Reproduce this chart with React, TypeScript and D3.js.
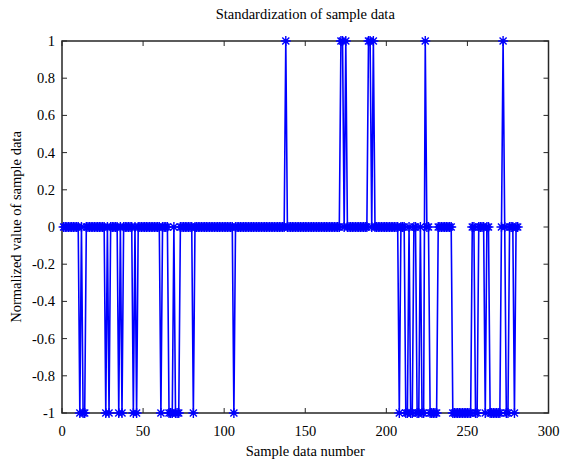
import React from "react";
import * as d3 from "d3";

const chartTitle = "Standardization of sample data";
const xLabel = "Sample data number";
const yLabel = "Normalized value of sample data";
const xTicks = [0, 50, 100, 150, 200, 250, 300];
const yTicks = [-1, -0.8, -0.6, -0.4, -0.2, 0, 0.2, 0.4, 0.6, 0.8, 1];

// normalized value of sample 1..281
const values = [
  0, 0, 0, 0, 0, 0, 0, 0, 0, 0, -1, 0, -1, -1, 0, 0, 0, 0, 0, 0,
  0, 0, 0, 0, 0, 0, -1, 0, -1, 0, 0, 0, 0, 0, -1, 0, -1, 0, 0, 0,
  0, 0, 0, -1, 0, -1, 0, 0, 0, 0, 0, 0, 0, 0, 0, 0, 0, 0, 0, 0,
  -1, 0, 0, 0, 0, -1, -1, -1, 0, -1, -1, -1, 0, 0, 0, 0, 0, 0, 0, 0,
  -1, 0, 0, 0, 0, 0, 0, 0, 0, 0, 0, 0, 0, 0, 0, 0, 0, 0, 0, 0,
  0, 0, 0, 0, 0, -1, 0, 0, 0, 0, 0, 0, 0, 0, 0, 0, 0, 0, 0, 0,
  0, 0, 0, 0, 0, 0, 0, 0, 0, 0, 0, 0, 0, 0, 0, 0, 0, 1, 0, 0,
  0, 0, 0, 0, 0, 0, 0, 0, 0, 0, 0, 0, 0, 0, 0, 0, 0, 0, 0, 0,
  0, 0, 0, 0, 0, 0, 0, 0, 0, 0, 0, 1, 1, 0, 1, 0, 0, 0, 0, 0,
  0, 0, 0, 0, 0, 0, 0, 0, 1, 1, 0, 1, 0, 0, 0, 0, 0, 0, 0, 0,
  0, 0, 0, 0, 0, 0, 0, -1, 0, 0, 0, -1, -1, 0, -1, -1, 0, 0, -1, -1,
  0, -1, -1, 1, 0, 0, -1, -1, -1, -1, -1, 0, 0, 0, 0, 0, 0, 0, 0, 0,
  -1, -1, -1, -1, -1, -1, -1, -1, -1, -1, -1, -1, 0, 0, -1, -1, 0, 0, 0, 0,
  -1, 0, 0, -1, -1, -1, -1, -1, -1, -1, 0, 1, 0, -1, -1, 0, 0, 0, -1, 0,
  0,
];

const W = 563;
const H = 460;
const left = 62;
const right = 548.5;
const top = 41;
const bottom = 413;
const axisColor = "#262626";
const font = "Liberation Serif, Times New Roman, DejaVu Serif, serif";
const lineColor = "#0000ff";
const fs = 14.5;

export default function App() {
  const x = d3.scaleLinear().domain([0, 300]).range([left, right]);
  const y = d3.scaleLinear().domain([-1, 1]).range([bottom, top]);
  const pts = values.map((v, i) => [i + 1, v] as [number, number]);
  const lineGen = d3
    .line<[number, number]>()
    .x((d) => x(d[0]))
    .y((d) => y(d[1]));
  const r = 5;
  const d2 = r * 0.7071;
  const star = `M0,${-r}L0,${r}M${-r},0L${r},0M${-d2},${-d2}L${d2},${d2}M${-d2},${d2}L${d2},${-d2}`;
  const tl = 5;

  return (
    <svg
      width={W}
      height={H}
      style={{ position: "absolute", left: 0, top: 0, background: "#fff", fontFamily: font }}
    >
      <rect x={0} y={0} width={W} height={H} fill="#fff" />
      <g stroke={axisColor} strokeWidth={1}>
        {xTicks.map((t) => (
          <g key={"xt" + t}>
            <line x1={x(t)} x2={x(t)} y1={bottom} y2={bottom - tl} />
            <line x1={x(t)} x2={x(t)} y1={top} y2={top + tl} />
          </g>
        ))}
        {yTicks.map((t) => (
          <g key={"yt" + t}>
            <line x1={left} x2={left + tl} y1={y(t)} y2={y(t)} />
            <line x1={right} x2={right - tl} y1={y(t)} y2={y(t)} />
          </g>
        ))}
      </g>
      <rect
        x={left}
        y={top}
        width={right - left}
        height={bottom - top}
        fill="none"
        stroke={axisColor}
        strokeWidth={1.5}
      />
      <g fill="#000" fontSize={fs}>
        {xTicks.map((t) => (
          <text key={"xl" + t} x={x(t)} y={bottom + 23} textAnchor="middle">
            {String(t)}
          </text>
        ))}
        {yTicks.map((t) => (
          <text key={"yl" + t} x={left - 7} y={y(t) + 5} textAnchor="end">
            {String(t)}
          </text>
        ))}
      </g>
      <text x={(left + right) / 2} y={19} textAnchor="middle" fontSize={fs} fill="#000">
        {chartTitle}
      </text>
      <text x={(left + right) / 2} y={456} textAnchor="middle" fontSize={fs} fill="#000">
        {xLabel}
      </text>
      <text
        transform={`translate(21,${(top + bottom) / 2}) rotate(-90)`}
        textAnchor="middle"
        fontSize={fs}
        fill="#000"
      >
        {yLabel}
      </text>
      <path d={lineGen(pts) || ""} fill="none" stroke={lineColor} strokeWidth={1.6} />
      <g stroke={lineColor} strokeWidth={1.4} fill="none">
        {pts.map((p, i) => (
          <path key={i} d={star} transform={`translate(${x(p[0])},${y(p[1])})`} />
        ))}
      </g>
    </svg>
  );
}
